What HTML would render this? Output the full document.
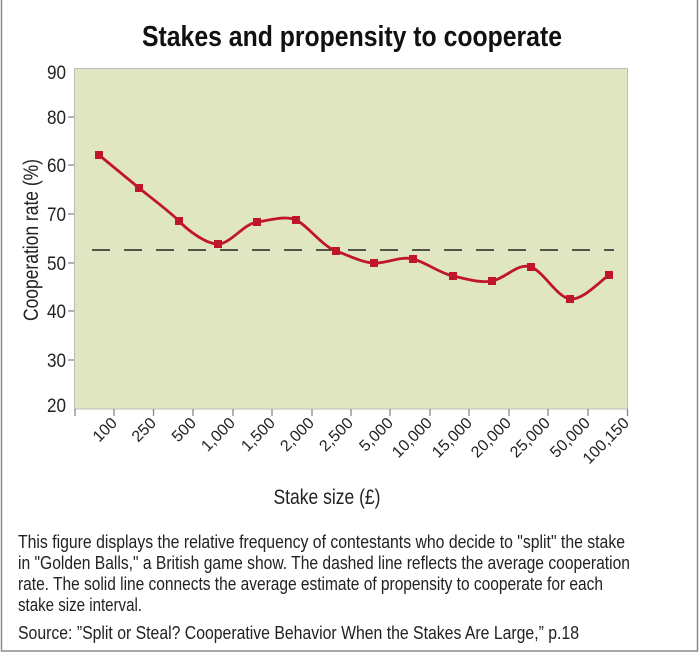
<!DOCTYPE html>
<html><head><meta charset="utf-8"><style>
html,body{margin:0;padding:0;background:#fff;}
svg{display:block;font-family:"Liberation Sans",sans-serif;}
</style></head><body>
<svg width="700" height="653" viewBox="0 0 700 653" xmlns="http://www.w3.org/2000/svg">
<rect x="1.5" y="-2" width="696" height="653" fill="#fff" stroke="#8a8a8a" stroke-width="1.5"/>
<text x="352" y="46" font-size="29" font-weight="bold" text-anchor="middle" textLength="420" lengthAdjust="spacingAndGlyphs" fill="#111">Stakes and propensity to cooperate</text>
<rect x="74.5" y="68.5" width="553" height="340.5" fill="#e0e6c2" stroke="#bdbdbd" stroke-width="1"/>
<g stroke="#888" stroke-width="1.3">
<line x1="68" y1="117" x2="74" y2="117"/><line x1="68" y1="165" x2="74" y2="165"/><line x1="68" y1="214" x2="74" y2="214"/><line x1="68" y1="263" x2="74" y2="263"/><line x1="68" y1="311" x2="74" y2="311"/><line x1="68" y1="360" x2="74" y2="360"/>
<line x1="75" y1="409" x2="75" y2="416"/><line x1="114" y1="409" x2="114" y2="416"/><line x1="153.5" y1="409" x2="153.5" y2="416"/><line x1="193" y1="409" x2="193" y2="416"/><line x1="233" y1="409" x2="233" y2="416"/><line x1="272" y1="409" x2="272" y2="416"/><line x1="312" y1="409" x2="312" y2="416"/><line x1="351" y1="409" x2="351" y2="416"/><line x1="390" y1="409" x2="390" y2="416"/><line x1="430" y1="409" x2="430" y2="416"/><line x1="469" y1="409" x2="469" y2="416"/><line x1="509" y1="409" x2="509" y2="416"/><line x1="548" y1="409" x2="548" y2="416"/><line x1="588" y1="409" x2="588" y2="416"/><line x1="627.5" y1="409" x2="627.5" y2="416"/>
</g>
<g font-size="19" fill="#222" text-anchor="end">
<text x="66" y="79" textLength="19" lengthAdjust="spacingAndGlyphs">90</text><text x="66" y="124" textLength="19" lengthAdjust="spacingAndGlyphs">80</text><text x="66" y="172" textLength="19" lengthAdjust="spacingAndGlyphs">60</text><text x="66" y="221" textLength="19" lengthAdjust="spacingAndGlyphs">70</text><text x="66" y="270" textLength="19" lengthAdjust="spacingAndGlyphs">50</text><text x="66" y="318" textLength="19" lengthAdjust="spacingAndGlyphs">40</text><text x="66" y="367" textLength="19" lengthAdjust="spacingAndGlyphs">30</text><text x="66" y="412" textLength="19" lengthAdjust="spacingAndGlyphs">20</text>
</g>
<text transform="translate(38,240) rotate(-90)" font-size="21" text-anchor="middle" fill="#222" textLength="162" lengthAdjust="spacingAndGlyphs">Cooperation rate (%)</text>
<g font-size="16" fill="#222" text-anchor="end">
<text transform="translate(118,424) rotate(-45)">100</text>
<text transform="translate(157,424) rotate(-45)">250</text>
<text transform="translate(197,424) rotate(-45)">500</text>
<text transform="translate(236,424) rotate(-45)">1,000</text>
<text transform="translate(276,424) rotate(-45)">1,500</text>
<text transform="translate(315,424) rotate(-45)">2,000</text>
<text transform="translate(354,424) rotate(-45)">2,500</text>
<text transform="translate(394,424) rotate(-45)">5,000</text>
<text transform="translate(433,424) rotate(-45)">10,000</text>
<text transform="translate(473,424) rotate(-45)">15,000</text>
<text transform="translate(512,424) rotate(-45)">20,000</text>
<text transform="translate(551,424) rotate(-45)">25,000</text>
<text transform="translate(591,424) rotate(-45)">50,000</text>
<text transform="translate(630,424) rotate(-45)">100,150</text>
</g>
<line x1="92" y1="250" x2="614" y2="250" stroke="#222" stroke-width="1.5" stroke-dasharray="18,14"/>
<path d="M99,155 C105.7,160.5 132.3,182.5 139,188 C145.7,193.5 171.8,213.3 179,221 C186.2,228.7 205.2,244.2 218,244 C230.8,243.8 243.8,223.7 257,222 C270.2,220.3 285.2,215.2 296,220 C306.8,224.8 322.3,246.2 336,251 C349.7,255.8 361.2,262.3 374,263 C386.8,263.7 400.2,255.7 413,259 C425.8,262.3 439.8,273.2 453,276 C466.2,278.8 478.8,283.3 492,281 C505.2,278.7 518.2,262.3 531,267 C543.8,271.7 557,297.3 570,299 C583,300.7 602.5,279 609,275" fill="none" stroke="#c0162b" stroke-width="2.8"/>
<g fill="#c0162b">
<rect x="95" y="151" width="8" height="8"/><rect x="135" y="184" width="8" height="8"/><rect x="175" y="217" width="8" height="8"/><rect x="214" y="240" width="8" height="8"/><rect x="253" y="218" width="8" height="8"/><rect x="292" y="216" width="8" height="8"/><rect x="332" y="247" width="8" height="8"/><rect x="370" y="259" width="8" height="8"/><rect x="409" y="255" width="8" height="8"/><rect x="449" y="272" width="8" height="8"/><rect x="488" y="277" width="8" height="8"/><rect x="527" y="263" width="8" height="8"/><rect x="566" y="295" width="8" height="8"/><rect x="605" y="271" width="8" height="8"/>
</g>
<text x="327" y="504" font-size="21" text-anchor="middle" fill="#222" textLength="107" lengthAdjust="spacingAndGlyphs">Stake size (£)</text>
<g font-size="18" fill="#222">
<text x="18" y="548" textLength="607" lengthAdjust="spacingAndGlyphs">This figure displays the relative frequency of contestants who decide to "split" the stake</text>
<text x="18" y="569" textLength="612" lengthAdjust="spacingAndGlyphs">in "Golden Balls," a British game show. The dashed line reflects the average cooperation</text>
<text x="18" y="590" textLength="585" lengthAdjust="spacingAndGlyphs">rate. The solid line connects the average estimate of propensity to cooperate for each</text>
<text x="18" y="611" textLength="124" lengthAdjust="spacingAndGlyphs">stake size interval.</text>
<text x="18" y="639" textLength="561" lengthAdjust="spacingAndGlyphs">Source: ”Split or Steal? Cooperative Behavior When the Stakes Are Large,” p.18</text>
</g>
</svg>
</body></html>
